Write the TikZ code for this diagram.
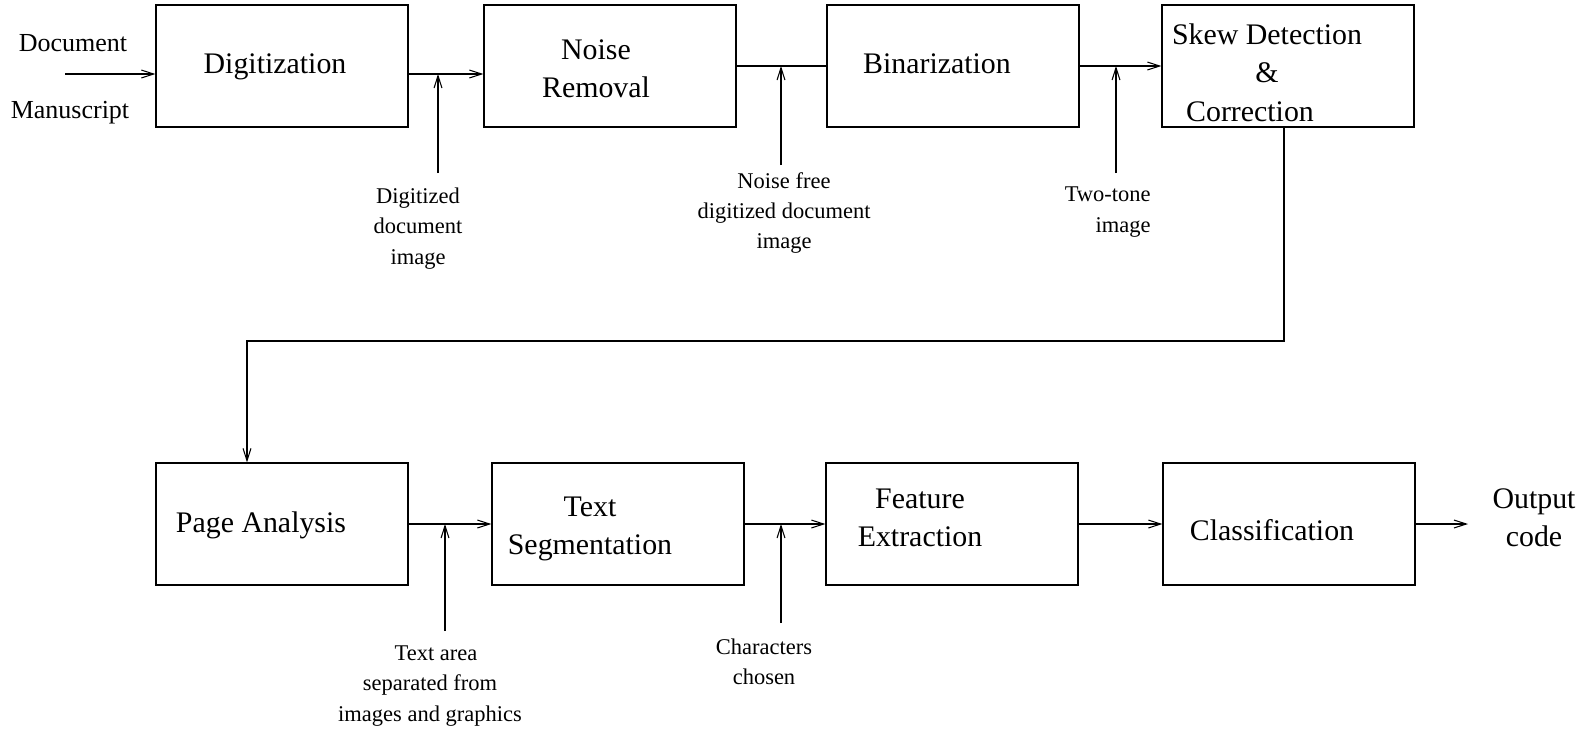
\documentclass[tikz,border=0pt]{standalone}
\usepackage{fontspec}
\setmainfont{Liberation Serif}
\usetikzlibrary{arrows.meta}
\usetikzlibrary{calc}

\tikzset{
  blk/.style={draw, line width=0.7pt, minimum width=5.04cm, minimum height=2.44cm, inner sep=0pt},
  big/.style={inner sep=0pt, align=center, font=\fontsize{17}{21.6}\selectfont},
  lbl/.style={inner sep=0pt, align=center, font=\fontsize{12.8}{17.3}\selectfont},
  src/.style={inner sep=0pt, font=\fontsize{14.8}{18}\selectfont},
  flow/.style={-{Straight Barb[length=7pt,width=4.5pt]}, line width=0.6pt},
}

\begin{document}
\begin{tikzpicture}[x=0.02cm, y=-0.02cm]
\useasboundingbox (0,0) rectangle (1595,735);

% first row of blocks
\node[blk] (digit) at (282,66) {};
\node[blk] (noise) at (610,66) {};
\node[blk] (binar) at (953,66) {};
\node[blk] (skew)  at (1288,66) {};
% second row
\node[blk] (page)  at (282,524) {};
\node[blk] (seg)   at (618,524) {};
\node[blk] (feat)  at (952,524) {};
\node[blk] (class) at (1289,524) {};

% block texts
\node[big] (digit-t) at (275,67)   {Digitization};
\node[big] (noise-t) at (596,68.5) {Noise\\Removal};
\node[big] (binar-t) at (937,64)   {Binarization};
\node[big, font=\fontsize{17}{21.9}\selectfont] (skew-t) at (1267,72.5)
  {Skew Detection\\\&\hspace*{0.68cm}\\Correction\hspace*{0.68cm}};
\node[big] (page-t)  at (261,525)  {Page Analysis};
\node[big] (seg-t)   at (590,529)  {Text\\Segmentation};
\node[big] (feat-t)  at (920,518)  {Feature\\Extraction};
\node[big] (class-t) at (1272,530) {Classification};

% input and output
\node[src] (docu) at (73,43)  {Document};
\node[src] (manu) at (70,113) {Manuscript};
\node[big] (outc) at (1534,518) {Output\\code};

% intermediate results
\node[lbl] (r1) at (418,228.5) {Digitized\\document\\image};
\node[lbl] (r2) at (784,213)   {Noise free\\digitized document\\image};
\node[lbl, align=right, anchor=east] (r3) at (1151,212) {Two-tone\\image};
\node[lbl] (r4) at (430,686)   {\hspace*{0.24cm}Text area\\separated from\\images and graphics};
\node[lbl] (r5) at (764,662)   {Characters\\chosen};

\coordinate (in)   at (65,74);
\coordinate (out)  at (1468,524);
\coordinate (turn) at (247,341);
\coordinate (c1) at (438,173);
\coordinate (c2) at (781,165);
\coordinate (c3) at (1116,173);
\coordinate (c4) at (445,631);
\coordinate (c5) at (781,623);

\path[flow]
(in) edge (in -| digit.west)
(in -| digit.east) edge (in -| noise.west)
(binar.east) edge (skew.west)
(page.east) edge (seg.west)
(seg.east) edge (feat.west)
(feat.east) edge (class.west)
(class.east) edge (out)
(c1) edge (c1 |- in)
(c2) edge (c2 |- noise.east)
(c3) edge (c3 |- binar.east)
(c4) edge (c4 |- page.east)
(c5) edge (c5 |- seg.east)
;
\draw[line width=0.6pt] (noise.east) -- (binar.west);
\draw[flow] (skew.south -| 1284,0) |- (turn) -- (turn |- page.north);
\end{tikzpicture}
\end{document}
